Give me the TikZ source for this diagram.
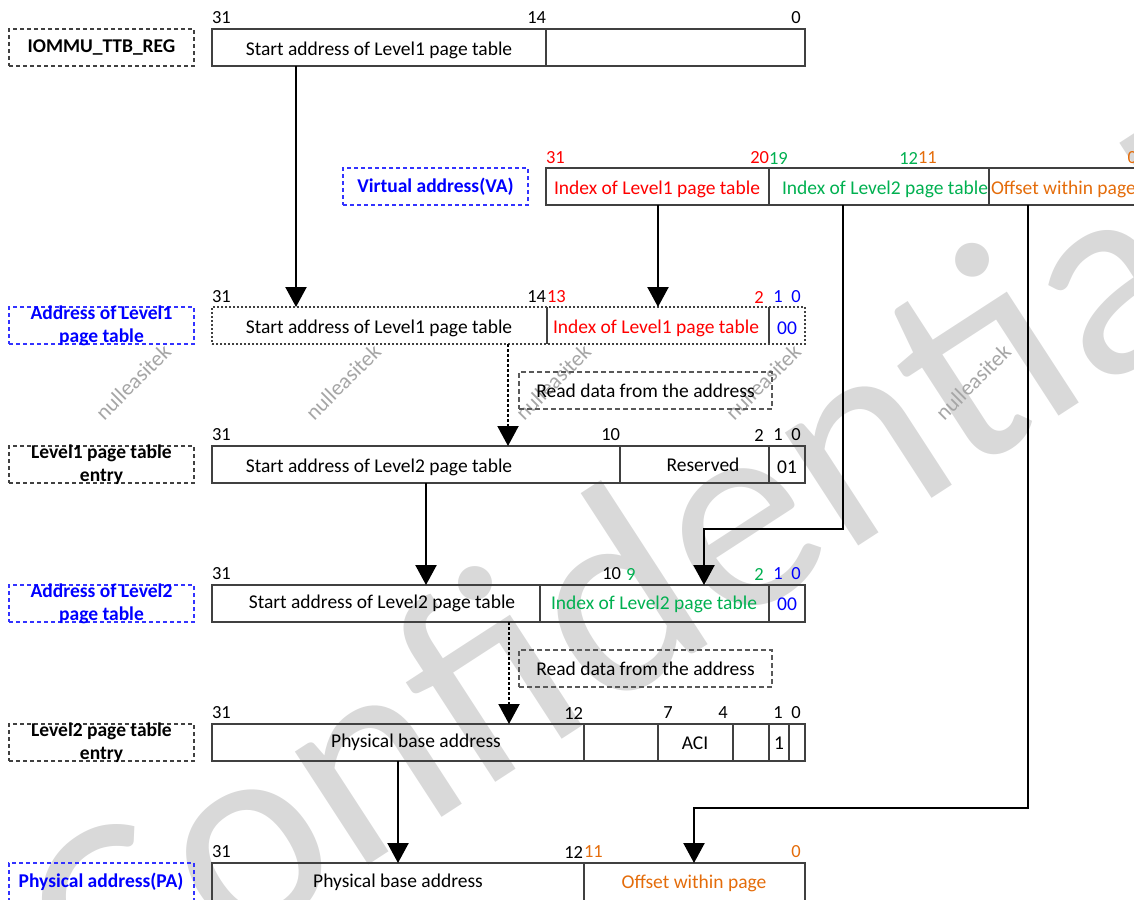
\documentclass[tikz,border=0pt]{standalone}
\usepackage{fontspec}
\setmainfont{Carlito}
\usetikzlibrary{arrows.meta}
\definecolor{cred}{HTML}{FF0000}
\definecolor{cgreen}{HTML}{00B050}
\definecolor{corange}{HTML}{E46C0A}
\definecolor{cblue}{HTML}{0000FF}
\definecolor{lblblue}{HTML}{3333FF}
\definecolor{boxgray}{HTML}{404040}
\definecolor{rdgray}{HTML}{595959}
\definecolor{wmbig}{HTML}{D9D9D9}
\definecolor{wmsmall}{HTML}{A6A6A6}
\newcommand\mainfs{\fontsize{19.5}{23}\selectfont}
\newcommand\numfs{\fontsize{18.5}{22}\selectfont}
\begin{document}
\begin{tikzpicture}[x=1pt,y=-1pt,
  every node/.style={inner sep=0pt, outer sep=0pt},
  cell/.style={draw=boxgray, line width=1.1pt, anchor=north west, minimum height=37pt, minimum width=#1},
  ghost/.style={anchor=north west, minimum height=37pt, minimum width=#1},
  divline/.style={draw=boxgray, line width=1.1pt},
  lblbox/.style={draw=#1, line width=1.1pt, dash pattern=on 4pt off 3pt, anchor=north west, minimum width=185pt, minimum height=37pt},
  rdbox/.style={draw=rdgray, line width=1.1pt, dash pattern=on 5pt off 3pt, anchor=north west, minimum width=253pt, minimum height=37pt, font=\mainfs},
  num/.style={font=\numfs},
  txt/.style={font=\mainfs},
  lbl/.style={font=\mainfs\bfseries, align=center},
  arr/.style={line width=2.3pt, -{Triangle[width=21pt,length=20pt]}},
  darr/.style={line width=2pt, dash pattern=on 3pt off 2pt, -{Triangle[width=21pt,length=20pt]}},
  wmtxt/.style={text=wmsmall, font=\fontsize{22}{22}\selectfont, rotate=45}
]
\useasboundingbox (0,0) rectangle (1134,899);

% watermarks
\node[text=wmbig, font=\fontsize{282}{282}\selectfont, rotate=33, anchor=base west] (wmC) at (102,1038) {Confidential};
\node[wmtxt] (wm1) at (133,382) {nulleasitek};
\node[wmtxt] (wm2) at (343,382) {nulleasitek};
\node[wmtxt] (wm3) at (553,382) {nulleasitek};
\node[wmtxt] (wm4) at (763,382) {nulleasitek};
\node[wmtxt] (wm5) at (973,382) {nulleasitek};

% ===== Row 1: IOMMU_TTB_REG
\node[lblbox=boxgray] (L1) at (9,29) {};
\node[lbl] (L1t) at (L1.center) {IOMMU\_TTB\_REG};
\node[cell=334pt] (r1a) at (212,29) {};
\node[cell=259pt] (r1b) at (546,29) {};
\node[num, anchor=west] (n1a) at (212,18) {31};
\node[num, anchor=east] (n1b) at (546,18) {14};
\node[num] (n1c) at (796,18) {0};
\node[txt] (t1a) at (379,50) {Start address of Level1 page table};

% ===== VA row
\node[lblbox=lblblue] (Lva) at (343,168) {};
\node[lbl, text=cblue] (Lvat) at (Lva.center) {Virtual address(VA)};
\node[cell=223pt] (va1) at (546,168) {};
\node[cell=220pt] (va2) at (769,168) {};
\node[cell=151pt] (va3) at (989,168) {};
\node[num, anchor=west, text=cred] (nva1) at (546,158) {31};
\node[num, anchor=east, text=cred] (nva2) at (769,158) {20};
\node[num, anchor=west, text=cgreen] (nva3) at (769,158) {19};
\node[num, anchor=east, text=cgreen] (nva4) at (918,158) {12};
\node[num, anchor=west, text=corange] (nva5) at (918,158) {11};
\node[num, anchor=east, text=corange] (nva6) at (1137,158) {0};
\node[txt, text=cred] (tva1) at (657,189) {Index of Level1 page table};
\node[txt, text=cgreen] (tva2) at (885,189) {Index of Level2 page table};
\node[txt, text=corange, anchor=west] (tva3) at (991,189) {Offset within page};

% ===== Address of Level1 page table
\node[lblbox=lblblue] (L2) at (9,307) {};
\node[lbl, text=cblue] (L2t) at (L2.center) {Address of Level1\\page table};
\node[anchor=north west, minimum width=593pt, minimum height=37pt, draw=boxgray, line width=1.1pt, dash pattern=on 2pt off 2pt] (l1af) at (212,307) {};
\node[ghost=335pt] (l1a1) at (212,307) {};
\node[ghost=222pt] (l1a2) at (547,307) {};
\node[ghost=36pt] (l1a3) at (769,307) {};
\draw[divline] (l1a2.north west) -- (l1a2.south west);
\draw[divline] (l1a3.north west) -- (l1a3.south west);
\node[num, anchor=west] (nl1a1) at (212,297) {31};
\node[num, anchor=east] (nl1a2) at (546,297) {14};
\node[num, anchor=west, text=cred] (nl1a3) at (547,297) {13};
\node[num, text=cred] (nl1a4) at (759,297) {2};
\node[num, text=cblue] (nl1a5) at (778,297) {1};
\node[num, text=cblue] (nl1a6) at (796,297) {0};
\node[txt] (tl1a1) at (379,328) {Start address of Level1 page table};
\node[txt, text=cred] (tl1a2) at (656,328) {Index of Level1 page table};
\node[txt, text=cblue] (tl1a3) at (787,328) {00};

% ===== Read data 1
\node[rdbox] (rd1) at (519,372) {};
\node[txt] (rd1t) at (rd1.center) {Read data from the address};

% ===== Level1 page table entry
\node[lblbox=boxgray] (L3) at (9,446) {};
\node[lbl] (L3t) at (L3.center) {Level1 page table\\entry};
\node[cell=408pt] (l1e1) at (212,446) {};
\node[cell=149pt] (l1e2) at (620,446) {};
\node[cell=36pt] (l1e3) at (769,446) {};
\node[num, anchor=west] (nl1e1) at (212,435) {31};
\node[num, anchor=east] (nl1e2) at (620,435) {10};
\node[num] (nl1e3) at (759,435) {2};
\node[num] (nl1e4) at (778,435) {1};
\node[num] (nl1e5) at (796,435) {0};
\node[txt] (tl1e1) at (379,467) {Start address of Level2 page table};
\node[txt] (tl1e2) at (703,465) {Reserved};
\node[txt] (tl1e3) at (787,467) {01};

% ===== Address of Level2 page table
\node[lblbox=lblblue] (L4) at (9,585) {};
\node[lbl, text=cblue] (L4t) at (L4.center) {Address of Level2\\page table};
\node[cell=328pt] (l2a1) at (212,585) {};
\node[cell=229pt] (l2a2) at (540,585) {};
\node[cell=36pt] (l2a3) at (769,585) {};
\node[num, anchor=west] (nl2a1) at (212,574) {31};
\node[num, anchor=east] (nl2a2) at (621,574) {10};
\node[num, anchor=west, text=cgreen] (nl2a3) at (626,574) {9};
\node[num, text=cgreen] (nl2a4) at (759,574) {2};
\node[num, text=cblue] (nl2a5) at (778,574) {1};
\node[num, text=cblue] (nl2a6) at (796,574) {0};
\node[txt] (tl2a1) at (382,603) {Start address of Level2 page table};
\node[txt, text=cgreen] (tl2a2) at (654,604) {Index of Level2 page table};
\node[txt, text=cblue] (tl2a3) at (787,604) {00};

% ===== Read data 2
\node[rdbox] (rd2) at (519,650) {};
\node[txt] (rd2t) at (rd2.center) {Read data from the address};

% ===== Level2 page table entry
\node[lblbox=boxgray] (L5) at (9,724) {};
\node[lbl] (L5t) at (L5.center) {Level2 page table\\entry};
\node[cell=372pt] (l2e1) at (212,724) {};
\node[cell=74pt] (l2e2) at (584,724) {};
\node[cell=75pt] (l2e3) at (658,724) {};
\node[cell=36pt] (l2e4) at (733,724) {};
\node[cell=20pt] (l2e5) at (769,724) {};
\node[cell=16pt] (l2e6) at (789,724) {};
\node[num, anchor=west] (nl2e1) at (212,713) {31};
\node[num, anchor=east] (nl2e2) at (583,713) {12};
\node[num] (nl2e3) at (668,713) {7};
\node[num] (nl2e4) at (723,713) {4};
\node[num] (nl2e5) at (778,713) {1};
\node[num] (nl2e6) at (796,713) {0};
\node[txt] (tl2e1) at (416,742) {Physical base address};
\node[txt] (tl2e2) at (695,743) {ACI};
\node[txt] (tl2e3) at (779,743) {1};

% ===== Physical address
\node[lblbox=lblblue, minimum height=50pt] (L6) at (9,863) {};
\node[lbl, text=cblue] (L6t) at (101,882) {Physical address(PA)};
\node[cell=372pt, minimum height=50pt] (pa1) at (212,863) {};
\node[cell=221pt, minimum height=50pt] (pa2) at (584,863) {};
\node[num, anchor=west] (npa1) at (212,852) {31};
\node[num, anchor=east] (npa2) at (583,852) {12};
\node[num, anchor=west, text=corange] (npa3) at (584,852) {11};
\node[num, text=corange] (npa4) at (796,852) {0};
\node[txt] (tpa1) at (398,882) {Physical base address};
\node[txt, text=corange] (tpa2) at (694,883) {Offset within page};

% ===== connectors
\coordinate (x1) at (296,0);
\coordinate (x2) at (658,0);
\coordinate (x3) at (508,0);
\coordinate (x4) at (426,0);
\coordinate (x5) at (843,529);
\coordinate (x5b) at (704,0);
\coordinate (x6) at (509,0);
\coordinate (x7) at (398,0);
\coordinate (x8) at (1028,808);
\coordinate (x8b) at (694,0);

\draw[arr] (r1a.south -| x1) -- (l1a1.north -| x1);
\draw[arr] (va1.south -| x2) -- (l1a2.north -| x2);
\draw[darr] (l1a1.south -| x3) -- (l1e1.north -| x3);
\draw[arr] (l1e1.south -| x4) -- (l2a1.north -| x4);
\draw[arr] (va2.south -| x5) -- (x5) -| (l2a2.north -| x5b);
\draw[darr] (l2a1.south -| x6) -- (l2e1.north -| x6);
\draw[arr] (l2e1.south -| x7) -- (pa1.north -| x7);
\draw[arr] (va3.south -| x8) -- (x8) -| (pa2.north -| x8b);
\end{tikzpicture}
\end{document}
